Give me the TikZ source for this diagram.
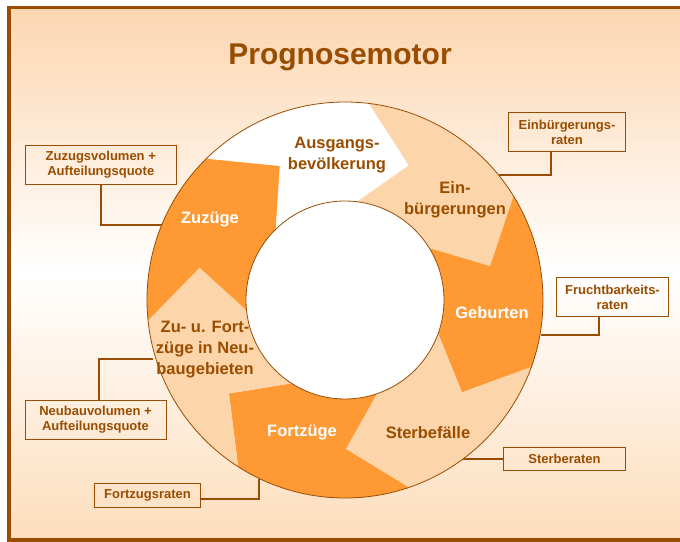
\documentclass[tikz,border=0pt]{standalone}
\usepackage{fontspec}
\setmainfont{Liberation Sans}
\usetikzlibrary{positioning,calc}
\definecolor{motorbraun}{RGB}{153,77,0}
\definecolor{motororange}{RGB}{255,153,51}
\definecolor{motorhell}{RGB}{253,213,170}
\definecolor{hgoben}{RGB}{252,214,176}
\definecolor{hgunten}{RGB}{253,221,188}

\begin{document}
\begin{tikzpicture}[x=1pt, y=1pt,
  dunkel/.style={text=motorbraun, font=\fontsize{16.5}{21}\selectfont\bfseries, align=center},
  hell/.style={text=white, font=\fontsize{16.5}{21}\selectfont\bfseries, align=center},
  quelle/.style={draw=motorbraun, line width=0.8pt, text=motorbraun, font=\fontsize{13}{15}\selectfont\bfseries, align=center, inner sep=0pt},
  verbinder/.style={draw=motorbraun, line width=2pt}]
  \useasboundingbox (0,0) rectangle (680,541);

  % Background and frame
  \shade[top color=hgoben, bottom color=hgunten, middle color=white] (9,1) rectangle (680,533.5);
  \draw[motorbraun, line width=3.8pt] (680,533.5) -- (9,533.5) -- (9,1) -- (680,1);

  % Title
  \node[text=motorbraun, font=\fontsize{30}{36}\selectfont\bfseries, anchor=base] (titel) at (340,476) {Prognosemotor};

  % Points on the ring where the connectors end
  \coordinate (zuzugrand) at (161.7,316);
  \coordinate (neubaurand) at (153,181.7);
  \coordinate (einbrand) at (499,366);
  \coordinate (fruchtrand) at (541,206);
  \coordinate (sterbrand) at (463,82.3);
  \coordinate (fortrand) at (259.3,62.5);

  % Input boxes
  \node[quelle, minimum width=151.7pt, minimum height=39pt] (zuzugvol) at (100.8,376.5) {Zuzugsvolumen +\\Aufteilungsquote};
  \node[quelle, minimum width=141pt, minimum height=38.6pt] (neubauvol) at (95.5,121) {Neubauvolumen +\\Aufteilungsquote};
  \node[quelle, minimum width=117.4pt, minimum height=39pt] (einbrate) at (567,408.8) {Einbürgerungs-\\raten};
  \node[quelle, minimum width=111.6pt, minimum height=39pt] (fruchtrate) at (612.5,243.8) {Fruchtbarkeits-\\raten};
  \node[quelle, minimum width=122.4pt, minimum height=22.7pt] (sterbrate) at (564.5,82.3) {Sterberaten};
  \node[quelle, minimum width=106.4pt, minimum height=24pt] (fortrate) at (147.5,45.7) {Fortzugsraten};

  % Connectors
  \draw[verbinder] (zuzugvol.south) |- (zuzugrand);
  \draw[verbinder] ($(neubauvol.north)+(3.8,0)$) |- (neubaurand);
  \draw[verbinder] ($(einbrate.south)+(-16,0)$) |- (einbrand);
  \draw[verbinder] ($(fruchtrate.south)+(-13.5,0)$) |- (fruchtrand);
  \draw[verbinder] (sterbrate.west) -- (sterbrand);
  \draw[verbinder] ($(fortrate.east)+(0,-3.7)$) -| (fortrand);

  % Ring segments, clockwise from the top
  \begin{scope}[shift={(345,241)}]
    \fill[white] (134.5:198) arc[start angle=134.5, end angle=83.07, radius=198] -- (64.57:149) -- (83.07:99) arc[start angle=83.07, end angle=134.5, radius=99] -- (116:149) -- cycle;
    \fill[motorhell] (83.07:198) arc[start angle=83.07, end angle=31.64, radius=198] -- (13.14:149) -- (31.64:99) arc[start angle=31.64, end angle=83.07, radius=99] -- (64.57:149) -- cycle;
    \fill[motororange] (31.64:198) arc[start angle=31.64, end angle=-19.79, radius=198] -- (-38.29:149) -- (-19.79:99) arc[start angle=-19.79, end angle=31.64, radius=99] -- (13.14:149) -- cycle;
    \fill[motorhell] (-19.79:198) arc[start angle=-19.79, end angle=-71.21, radius=198] -- (-89.71:149) -- (-71.21:99) arc[start angle=-71.21, end angle=-19.79, radius=99] -- (-38.29:149) -- cycle;
    \fill[motororange] (-71.21:198) arc[start angle=-71.21, end angle=-122.64, radius=198] -- (-141.14:149) -- (-122.64:99) arc[start angle=-122.64, end angle=-71.21, radius=99] -- (-89.71:149) -- cycle;
    \fill[motorhell] (-122.64:198) arc[start angle=-122.64, end angle=-174.07, radius=198] -- (-192.57:149) -- (-174.07:99) arc[start angle=-174.07, end angle=-122.64, radius=99] -- (-141.14:149) -- cycle;
    \fill[motororange] (-174.07:198) arc[start angle=-174.07, end angle=-225.5, radius=198] -- (-244:149) -- (-225.5:99) arc[start angle=-225.5, end angle=-174.07, radius=99] -- (-192.57:149) -- cycle;

    % Ring outline
    \draw[motorbraun, line width=0.8pt] (0,0) circle[radius=198];
    \draw[motorbraun, line width=0.8pt, fill=white] (0,0) circle[radius=99];
  \end{scope}

  % Segment labels
  \node[dunkel] (ausgang) at (337,386) {Ausgangs-\\bevölkerung};
  \node[dunkel] (einbuerg) at (455,341) {Ein-\\bürgerungen};
  \node[hell] (geburten) at (492,228) {Geburten};
  \node[dunkel] (sterbe) at (428,108) {Sterbefälle};
  \node[hell] (fortzuege) at (302,108) {Fortzüge};
  \node[dunkel] (neubaugeb) at (205,191) {Zu- u. Fort-\\züge in Neu-\\baugebieten};
  \node[hell] (zuzuege) at (210,321) {Zuzüge};

\end{tikzpicture}
\end{document}
